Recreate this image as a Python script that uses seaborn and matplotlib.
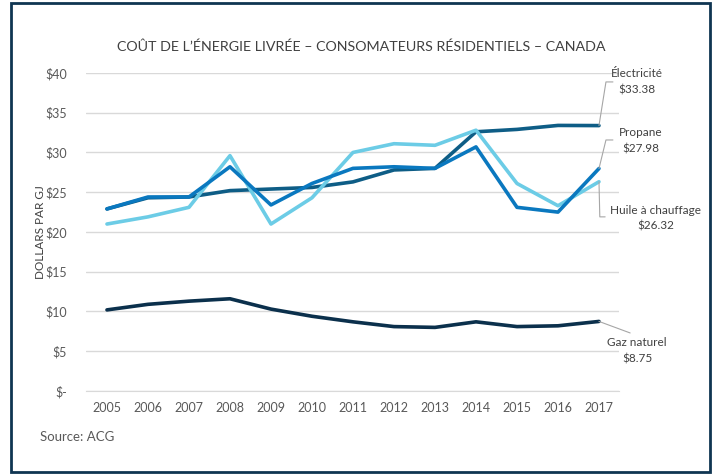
import pandas as pd
import seaborn as sns
from matplotlib import pyplot as plt
from matplotlib.patches import Rectangle
import matplotlib.ticker as ticker

# data ($ per GJ)
years = [2005, 2006, 2007, 2008, 2009, 2010, 2011, 2012, 2013, 2014, 2015, 2016, 2017]
electricite = [22.9, 24.3, 24.4, 25.2, 25.4, 25.6, 26.3, 27.8, 28.0, 32.6, 32.9, 33.4, 33.38]
propane = [22.9, 24.4, 24.4, 28.2, 23.4, 26.1, 28.0, 28.2, 28.0, 30.7, 23.1, 22.5, 27.98]
huile = [21.0, 21.9, 23.1, 29.6, 21.0, 24.3, 30.0, 31.1, 30.9, 32.8, 26.1, 23.3, 26.32]
gaz = [10.2, 10.9, 11.3, 11.6, 10.3, 9.4, 8.7, 8.1, 8.0, 8.7, 8.1, 8.2, 8.75]

series_names = ["Gaz naturel", "Électricité", "Huile à chauffage", "Propane"]
series_values = [gaz, electricite, huile, propane]
labels = ["Électricité\n$33.38", "Propane\n$27.98", "Huile à chauffage\n$26.32", "Gaz naturel\n$8.75"]

colors = {"Gaz naturel": "#0B304C", "Électricité": "#0E5D86",
          "Huile à chauffage": "#6CCCE6", "Propane": "#0A78BF"}

rows = []
for name, vals in zip(series_names, series_values):
    for y, v in zip(years, vals):
        rows.append({"Année": y, "Coût": v, "Type": name})
df = pd.DataFrame(rows)

sns.set_style("white")
plt.rcParams['font.family'] = ['Lato', 'DejaVu Sans']
grey = "#595959"

fig = plt.figure(figsize=(7.17, 4.74), dpi=100)
ax = fig.add_axes([0.1206, 0.1751, 0.7434, 0.671])

sns.lineplot(data=df, x="Année", y="Coût", hue="Type", palette=colors,
             hue_order=series_names, linewidth=2.6, legend=False, ax=ax)

ax.set_xlim(2004.5, 2017.5)
ax.set_ylim(0, 40)
ax.yaxis.set_major_locator(ticker.MultipleLocator(5))
ax.yaxis.set_major_formatter(ticker.FuncFormatter(
    lambda v, p: "$-" if v == 0 else "${:.0f}".format(v)))
ax.set_xticks(years)
ax.set_xticklabels([str(y) for y in years])
ax.xaxis.set_minor_locator(ticker.FixedLocator([y - 0.5 for y in years] + [2017.5]))
ax.tick_params(axis="x", which="major", length=0, pad=8, labelsize=9, labelcolor=grey)
ax.tick_params(axis="x", which="minor", length=4, color="#d9d9d9", width=1)
ax.tick_params(axis="y", length=0, pad=14, labelsize=9, labelcolor=grey)

ax.grid(axis="y", color="#d9d9d9", linewidth=1)
ax.set_axisbelow(True)
for s in ["top", "right", "left"]:
    ax.spines[s].set_visible(False)
ax.spines["bottom"].set_color("#d9d9d9")
ax.set_xlabel("")
ax.set_ylabel("")

# leader lines and end labels
lc = "#a6a6a6"
leaders = [
    ([2017, 2017.17, 2017.34], [33.38, 38.87, 38.87]),
    ([2017, 2017.17, 2017.34], [27.98, 31.57, 31.57]),
    ([2017, 2017.02, 2017.15], [26.32, 21.9, 21.9]),
    ([2017, 2017.76], [8.75, 7.3]),
]
for xs, ys in leaders:
    ax.plot(xs, ys, color=lc, linewidth=0.8, clip_on=False)

label_pos = [(2017.93, 38.87), (2018.02, 31.45), (2018.39, 21.76), (2017.93, 5.09)]
for txt, (x, y) in zip(labels, label_pos):
    ax.text(x, y, txt, ha="center", va="center", fontsize=8.5, color="#404040",
            linespacing=1.55, clip_on=False)

fig.text(0.504, 0.901, "COÛT DE L’ÉNERGIE LIVRÉE – CONSOMATEURS RÉSIDENTIELS – CANADA",
         ha="center", va="center", fontsize=10.3, color="#404040")
fig.text(0.056, 0.51, "DOLLARS PAR GJ", rotation=90, ha="center", va="center",
         fontsize=8.5, color="#404040")
fig.text(0.056, 0.078, "Source: ACG", ha="left", va="center", fontsize=9.5, color=grey)

fig.patches.append(Rectangle((0.0153, 0.004), 0.975, 0.99, transform=fig.transFigure,
                             fill=False, edgecolor="#0F3552", linewidth=2))

fig.savefig("out.png", dpi=100)
